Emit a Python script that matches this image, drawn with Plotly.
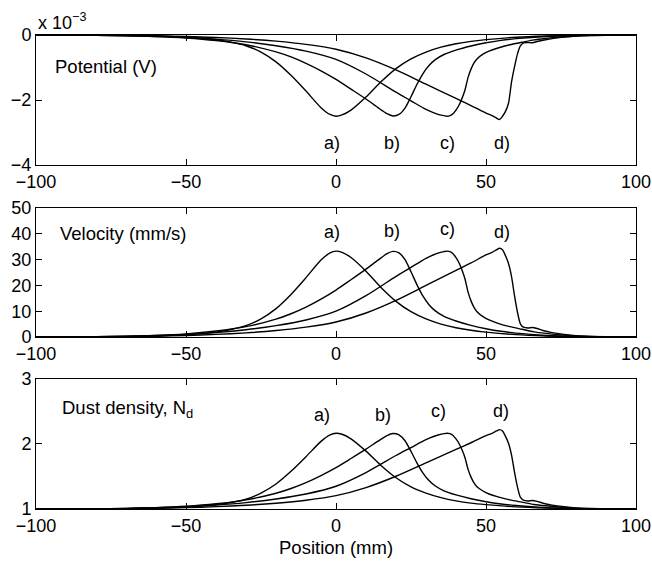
import plotly.graph_objects as go

# ---------------- data ----------------
# positions (mm) for each curve
x_a = [-100, -80, -70, -60, -50, -45, -40, -35, -30, -25, -20, -15, -10, -5, -2, 0, 2, 5,
       10, 15, 20, 25, 30, 35, 40, 45, 50, 60, 70, 80, 90, 100]
x_b = [-100, -80, -70, -60, -50, -40, -30, -20, -15, -10, -5, 0, 5, 10, 14, 17, 19, 21, 23,
       25, 27, 29, 31, 33, 36, 40, 45, 50, 55, 60, 70, 80, 90, 100]
x_c = [-100, -80, -70, -60, -50, -40, -30, -20, -10, 0, 10, 20, 25, 30, 34, 36, 37, 38, 39,
       40, 41, 42, 43, 44, 45, 46, 47, 49, 51, 54, 58, 62, 66, 70, 75, 80, 90, 100]
x_d = [-100, -80, -70, -60, -50, -40, -30, -20, -10, 0, 10, 20, 30, 40, 45, 50, 52, 53.5,
       54.5, 55.5, 56.5, 57.5, 58.5, 59.5, 60.5, 61.5, 62.5, 64, 65.5, 67, 69, 72, 76, 80,
       85, 90, 100]

# potential (units of 1e-3 V)
pot_a = [0, -0.004, -0.011, -0.03, -0.068, -0.098, -0.143, -0.218, -0.33, -0.525, -0.825,
         -1.24, -1.725, -2.235, -2.445, -2.5, -2.46, -2.31, -1.91, -1.44, -1.035, -0.735,
         -0.525, -0.375, -0.27, -0.195, -0.143, -0.068, -0.03, -0.011, -0.004, 0]
pot_b = [0, -0.008, -0.023, -0.045, -0.09, -0.17, -0.3, -0.52, -0.675, -0.87, -1.1,
         -1.365, -1.665, -1.97, -2.235, -2.42, -2.49, -2.445, -2.25, -1.9, -1.515, -1.185,
         -0.94, -0.765, -0.6, -0.465, -0.34, -0.24, -0.165, -0.113, -0.045, -0.015,
         -0.004, 0]
pot_c = [0, -0.008, -0.023, -0.045, -0.075, -0.128, -0.21, -0.33, -0.495, -0.75, -1.2,
         -1.76, -2.025, -2.29, -2.44, -2.48, -2.5, -2.48, -2.42, -2.31, -2.16, -1.95,
         -1.69, -1.31, -1.05, -0.86, -0.735, -0.59, -0.495, -0.4, -0.3, -0.225, -0.15,
         -0.105, -0.06, -0.03, -0.008, 0]
pot_d = [0, -0.004, -0.011, -0.023, -0.045, -0.076, -0.121, -0.189, -0.287, -0.438,
         -0.703, -1.073, -1.512, -1.95, -2.17, -2.404, -2.48, -2.555, -2.6, -2.5, -2.35,
         -2.1, -1.45, -0.98, -0.58, -0.33, -0.24, -0.23, -0.24, -0.2, -0.16, -0.11,
         -0.066, -0.035, -0.013, -0.004, 0]

# velocity (mm/s)
vel_a = [0, 0.05, 0.15, 0.4, 0.9, 1.3, 1.9, 2.9, 4.4, 7.0, 11.0, 16.5, 23.0, 29.8, 32.6,
         33.3, 32.8, 30.8, 25.5, 19.2, 13.8, 9.8, 7.0, 5.0, 3.6, 2.6, 1.9, 0.9, 0.4, 0.15,
         0.05, 0]
vel_b = [0, 0.1, 0.3, 0.6, 1.2, 2.3, 4.0, 6.9, 9.0, 11.6, 14.7, 18.2, 22.2, 26.3, 29.8,
         32.3, 33.2, 32.6, 30.0, 25.3, 20.2, 15.8, 12.5, 10.2, 8.0, 6.2, 4.5, 3.2, 2.2,
         1.5, 0.6, 0.2, 0.05, 0]
vel_c = [0, 0.1, 0.3, 0.6, 1.0, 1.7, 2.8, 4.4, 6.6, 10.0, 16.0, 23.5, 27.0, 30.5, 32.5,
         33.1, 33.3, 33.1, 32.3, 30.8, 28.8, 26.0, 22.5, 17.5, 14.0, 11.5, 9.8, 7.9, 6.6,
         5.3, 4.0, 3.0, 2.0, 1.4, 0.8, 0.4, 0.1, 0]
vel_d = [0, 0.05, 0.15, 0.3, 0.6, 1.0, 1.6, 2.5, 3.8, 5.8, 9.3, 14.2, 20.0, 25.8, 28.7,
         31.8, 32.8, 33.8, 34.4, 33.8, 31.5, 28.5, 23.5, 16.0, 9.5, 5.0, 3.8, 3.5, 3.7,
         3.3, 2.5, 1.7, 1.0, 0.5, 0.2, 0.05, 0]

# normalised dust density N_d
den_a = [1, 1.002, 1.005, 1.014, 1.032, 1.046, 1.067, 1.10, 1.15, 1.245, 1.385, 1.58,
         1.805, 2.04, 2.14, 2.165, 2.15, 2.08, 1.89, 1.67, 1.48, 1.34, 1.245, 1.175,
         1.125, 1.09, 1.067, 1.032, 1.014, 1.005, 1.002, 1]
den_b = [1, 1.004, 1.01, 1.021, 1.042, 1.08, 1.14, 1.242, 1.315, 1.406, 1.515, 1.637,
         1.777, 1.92, 2.043, 2.13, 2.162, 2.141, 2.05, 1.886, 1.707, 1.553, 1.438, 1.357,
         1.28, 1.217, 1.158, 1.112, 1.077, 1.053, 1.021, 1.007, 1.002, 1]
den_c = [1, 1.004, 1.01, 1.021, 1.035, 1.06, 1.098, 1.154, 1.231, 1.35, 1.56, 1.823,
         1.945, 2.068, 2.138, 2.159, 2.166, 2.159, 2.131, 2.078, 2.008, 1.91, 1.788,
         1.613, 1.49, 1.403, 1.343, 1.277, 1.231, 1.186, 1.14, 1.105, 1.07, 1.049,
         1.028, 1.014, 1.004, 1]
den_d = [1, 1.002, 1.005, 1.011, 1.021, 1.036, 1.057, 1.089, 1.135, 1.206, 1.33, 1.504,
         1.71, 1.916, 2.019, 2.129, 2.164, 2.2, 2.221, 2.2, 2.118, 2.012, 1.834, 1.568,
         1.337, 1.178, 1.135, 1.124, 1.131, 1.117, 1.089, 1.06, 1.036, 1.018, 1.007,
         1.002, 1]

curve_names = ["a)", "b)", "c)", "d)"]
label_x = [-1.5, 18.6, 37, 55.2]
label_y_pot = -3.32
label_y_vel = [40.8, 41.2, 42.0, 40.8]
label_x_den = [-4.8, 15.8, 34.1, 55]
label_y_den = [2.45, 2.45, 2.5, 2.5]

x_ticks = [-100, -50, 0, 50, 100]
pot_ticks = [-4, -2, 0]
vel_ticks = [0, 10, 20, 30, 40, 50]
den_ticks = [1, 2, 3]

# ---------------- figure ----------------
fig = go.Figure()
xs = [x_a, x_b, x_c, x_d]
panels = [
    ([pot_a, pot_b, pot_c, pot_d], "x", "y"),
    ([vel_a, vel_b, vel_c, vel_d], "x2", "y2"),
    ([den_a, den_b, den_c, den_d], "x3", "y3"),
]
for series, xa, ya in panels:
    for xv, yv, nm in zip(xs, series, curve_names):
        fig.add_trace(go.Scatter(x=xv, y=yv, mode="lines", name=nm, xaxis=xa, yaxis=ya,
                                 line=dict(color="black", width=1.4, shape="spline",
                                           smoothing=0.7),
                                 hoverinfo="skip"))

font_family = "Liberation Sans, Arial, Helvetica, sans-serif"
axis_style = dict(showline=True, linecolor="black", linewidth=1, mirror="allticks",
                  ticks="inside", ticklen=6, tickcolor="black", tickwidth=1,
                  showgrid=False, zeroline=False, automargin=False,
                  tickfont=dict(size=18, color="black"))

fig.update_layout(
    template="none",
    width=652, height=566,
    margin=dict(l=36, r=16, t=35, b=57, autoexpand=False),
    paper_bgcolor="white", plot_bgcolor="white",
    showlegend=False,
    font=dict(family=font_family, size=18, color="black"),
    xaxis=dict(domain=[0, 1], anchor="y", range=[-100, 100], tickvals=x_ticks, **axis_style),
    xaxis2=dict(domain=[0, 1], anchor="y2", range=[-100, 100], tickvals=x_ticks, **axis_style),
    xaxis3=dict(domain=[0, 1], anchor="y3", range=[-100, 100], tickvals=x_ticks, **axis_style),
    yaxis=dict(domain=[0.7257, 1], anchor="x", range=[-4, 0], tickvals=pot_ticks, **axis_style),
    yaxis2=dict(domain=[0.3629, 0.635], anchor="x2", range=[0, 50], tickvals=vel_ticks, **axis_style),
    yaxis3=dict(domain=[0, 0.2743], anchor="x3", range=[1, 3], tickvals=den_ticks, **axis_style),
)

ann = []
for lx, nm in zip(label_x, curve_names):
    ann.append(dict(x=lx, y=label_y_pot, xref="x", yref="y", text=nm, showarrow=False))
for lx, ly, nm in zip(label_x, label_y_vel, curve_names):
    ann.append(dict(x=lx, y=ly, xref="x2", yref="y2", text=nm, showarrow=False))
for lx, ly, nm in zip(label_x_den, label_y_den, curve_names):
    ann.append(dict(x=lx, y=ly, xref="x3", yref="y3", text=nm, showarrow=False))

ann += [
    dict(x=0.028, y=0.933, xref="paper", yref="paper", text="Potential (V)",
         showarrow=False, xanchor="left", yanchor="middle", font=dict(size=18.5)),
    dict(x=0.037, y=0.582, xref="paper", yref="paper", text="Velocity (mm/s)",
         showarrow=False, xanchor="left", yanchor="middle", font=dict(size=18.5)),
    dict(x=0.04, y=0.212, xref="paper", yref="paper", text="Dust density, N<sub>d</sub>",
         showarrow=False, xanchor="left", yanchor="middle", font=dict(size=18.5)),
    dict(x=0.5, y=-0.082, xref="paper", yref="paper", text="Position (mm)",
         showarrow=False, xanchor="center", yanchor="middle", font=dict(size=18.5)),
    dict(x=0.0, y=1.0, xref="paper", yref="paper", text="x 10<sup>−3</sup>",
         showarrow=False, xanchor="left", yanchor="bottom", yshift=0),
]
fig.update_layout(annotations=ann)

fig.write_html("out.html",
               config={"displayModeBar": False},
               post_script="document.body.style.margin='0';document.body.style.padding='0';")
